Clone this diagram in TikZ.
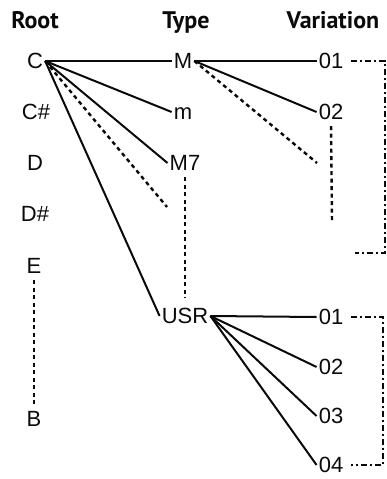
\documentclass[tikz,border=0pt]{standalone}
\usepackage{fontspec}
\setmainfont{Liberation Sans}
\newfontfamily\headfont{PT Sans}
\usepackage{tikz}
\usetikzlibrary{positioning}
\definecolor{inkblack}{RGB}{10,10,10}
\tikzset{
  header/.style={anchor=base, inner sep=0pt, text=inkblack,
    font=\headfont\fontsize{24}{27}\selectfont\bfseries},
  entry/.style={inner sep=2pt, text height=15.7pt, text depth=0pt,
    text=inkblack, font=\fontsize{22}{26}\selectfont},
  link/.style={line width=2pt, draw=inkblack},
  dotlink/.style={line width=2.4pt, draw=inkblack, dash pattern=on 4pt off 3.5pt},
  bracketlink/.style={line width=2pt, draw=inkblack,
    dash pattern=on 6pt off 3pt on 2pt off 3pt},
}

\begin{document}
\begin{tikzpicture}[x=1pt, y=-1pt]
  \useasboundingbox (0,0) rectangle (387,479);
  % column headers
  \node[header] (hroot) at (35,28) {Root};
  \node[header] (htype) at (186,28) {Type};
  \node[header] (hvar) at (333,28) {Variation};
  % root notes
  \node[entry] (C) at (35,61) {C};
  \node[entry] (Cs) at (36,112) {C\#};
  \node[entry] (D) at (35,163) {D};
  \node[entry] (Ds) at (35,214) {D\#};
  \node[entry] (E) at (34,266) {E};
  \node[entry] (B) at (34,419) {B};
  % chord types
  \node[entry] (M) at (183,61) {M};
  \node[entry] (m) at (183,112) {m};
  \node[entry] (M7) at (185,163) {M7};
  \node[entry] (USR) at (185,316) {USR};
  % variations
  \node[entry] (vMa) at (331,61) {01};
  \node[entry] (vMb) at (331,112) {02};
  \node[entry] (vUa) at (331,317) {01};
  \node[entry] (vUb) at (331,367) {02};
  \node[entry] (vUc) at (331,416) {03};
  \node[entry] (vUd) at (331,465) {04};
  % loose ends
  \coordinate (rootmore) at (167,207);
  \coordinate (typemore) at (317,163);
  \coordinate (varmore) at (332,222);
  \coordinate (brA) at (385,253);
  \coordinate (brAend) at (355,253);
  \coordinate (brB) at (383,465);

  \draw[link] (C.east) -- (M.west);
  \draw[link] (C.east) -- (m.west);
  \draw[link] (C.east) -- (M7.west);
  \draw[link] (C.east) -- (USR.west);
  \draw[dotlink] (C.east) -- (rootmore);
  \draw[dotlink, shorten <=4pt, shorten >=4pt] (E.south) -- (B.north);

  \draw[link] (M.east) -- (vMa.west);
  \draw[link] (M.east) -- (vMb.west);
  \draw[dotlink] (M.east) -- (typemore);
  \draw[dotlink, shorten <=4pt, shorten >=8pt] (M7.south) -- (USR.north);
  \draw[dotlink, shorten <=4pt] (vMb.south) -- (varmore);

  \draw[link] (USR.east) -- (vUa.west);
  \draw[link] (USR.east) -- (vUb.west);
  \draw[link] (USR.east) -- (vUc.west);
  \draw[link] (USR.east) -- (vUd.west);

  \draw[bracketlink, shorten <=6pt] (vMa.east) -| (brA) -- (brAend);
  \draw[bracketlink, shorten <=6pt, shorten >=6pt] (vUa.east) -| (brB) -- (vUd.east);
\end{tikzpicture}
\end{document}
